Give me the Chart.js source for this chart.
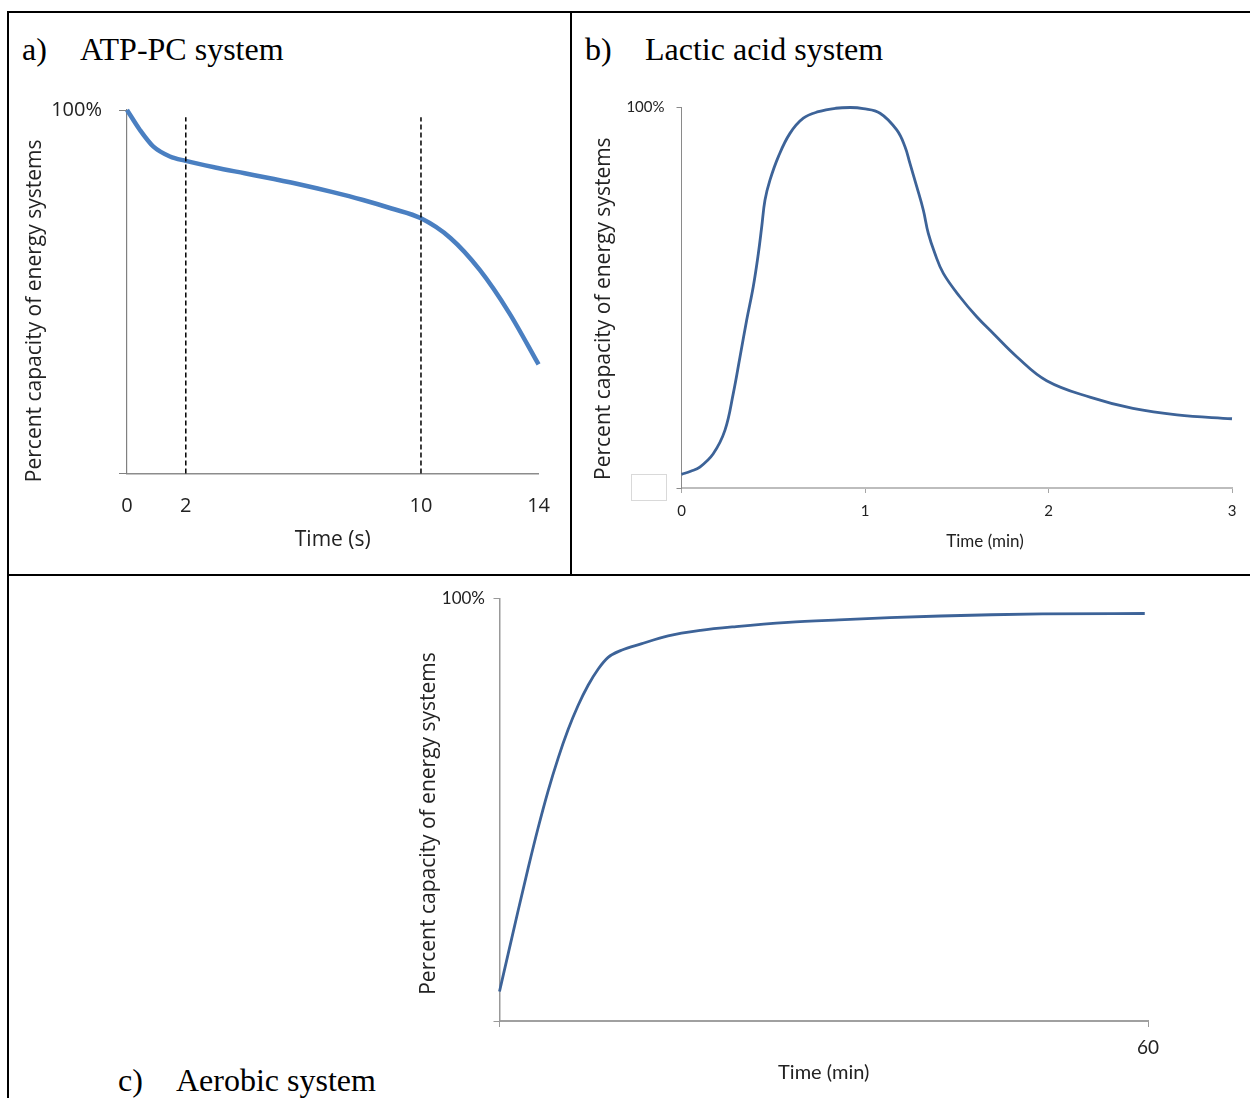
<!DOCTYPE html>
<html>
<head>
<meta charset="utf-8">
<script src="https://cdn.jsdelivr.net/npm/chart.js@4.4.1/dist/chart.umd.min.js"></script>
<style>
  body { margin: 0; background: #fff; width: 1250px; height: 1098px; overflow: hidden; position: relative; }
  .rule { position: absolute; background: #000; }
  .ttl { position: absolute; font-family: "Liberation Serif", "Times New Roman", serif; font-size: 32px; line-height: 32px; color: #000; white-space: nowrap; }
  canvas { position: absolute; }
  .ghost { position: absolute; border: 1px solid #d9d9d9; }
</style>
</head>
<body>
<div class="rule" style="left:7px; top:11px; width:1243px; height:2px;"></div>
<div class="rule" style="left:7px; top:11px; width:2px; height:1087px;"></div>
<div class="rule" style="left:570px; top:11px; width:2px; height:565px;"></div>
<div class="rule" style="left:7px; top:574px; width:1243px; height:2px;"></div>

<div class="ttl" style="left:22px; top:33px;">a)</div>
<div class="ttl" style="left:80px; top:33px;">ATP-PC system</div>
<div class="ttl" style="left:585px; top:33px;">b)</div>
<div class="ttl" style="left:645px; top:33px;">Lactic acid system</div>
<div class="ttl" style="left:118px; top:1064px;">c)</div>
<div class="ttl" style="left:176px; top:1064px;">Aerobic system</div>

<div class="ghost" style="left:631px; top:474px; width:34px; height:25px;"></div>

<canvas id="chartA" width="553" height="510" style="left:10px; top:62px;"></canvas>
<canvas id="chartB" width="677" height="510" style="left:573px; top:62px;"></canvas>
<canvas id="chartC" width="1238" height="518" style="left:10px; top:580px;"></canvas>

<script>
// a) ATP-PC system, temps en secondes
const atpTime = [0, 0.44, 0.9, 1.46, 2, 3, 4, 5, 6, 7, 8, 9, 10, 11, 12, 13, 14];
const atpCapacity = [100, 94.5, 89.9, 87.2, 86.0, 84.2, 82.6, 81.0, 79.3, 77.4, 75.3, 72.9, 70.2, 64.8, 56.0, 44.2, 30.0];
const atpMarkers = [2, 10];
const atpMarkerTop = 98;
const atpTicks = [0, 2, 10, 14];

// b) Lactic acid system, temps en minutes
const lacticTime = [0, 0.05, 0.1, 0.173, 0.237, 0.282, 0.319, 0.355, 0.391, 0.419, 0.437, 0.455, 0.482, 0.528, 0.591, 0.664, 0.746, 0.84, 0.92, 0.99, 1.082, 1.173, 1.218, 1.245, 1.282, 1.318, 1.345, 1.381, 1.427, 1.518, 1.609, 1.699, 1.827, 1.99, 2.23, 2.46, 2.7, 3.0];
const lacticCapacity = [3.6, 4.4, 5.5, 9.0, 15.2, 24.8, 34.5, 44.1, 52.9, 61.7, 68.6, 75.7, 80.9, 87.1, 93.2, 97.2, 98.9, 99.8, 100, 99.7, 98.5, 94.1, 89.7, 85.3, 79.2, 73.0, 66.9, 61.6, 56.4, 50.2, 45.0, 40.6, 34.5, 28.2, 23.8, 20.9, 19.2, 18.2];
const lacticTicks = [0, 1, 2, 3];

// c) Aerobic system, temps en minutes
const aerobicTime = [0, 0.8, 1.72, 2.65, 3.57, 4.5, 5.42, 6.35, 7.27, 8.2, 9.12, 10.05, 11.28, 13.1, 15.6, 18.6, 21.9, 26.7, 31.4, 36.1, 40.8, 45.5, 50.2, 59.7];
const aerobicCapacity = [7.0, 15.9, 26.1, 36.2, 45.7, 54.5, 62.2, 69.0, 74.7, 79.5, 83.3, 86.1, 87.8, 89.3, 91.2, 92.5, 93.4, 94.4, 95.0, 95.5, 95.9, 96.2, 96.4, 96.5];
const aerobicTicks = [0, 60];
const aerobicLabels = ['', '60'];

const yTicks = [0, 100];
const yTitle = 'Percent capacity of energy systems';

function pts(xs, ys) {
    return xs.map((x, i) => ({ x: x, y: ys[i] }));
}
function fixTicks(values) {
    return scale => { scale.ticks = values.map(v => ({ value: v })); };
}
function pctLabel(v) {
    return v === 100 ? '100%' : '';
}

const curveA = {
    data: pts(atpTime, atpCapacity),
    borderColor: '#4A7FC1',
    borderWidth: 4.5,
    pointRadius: 0,
    cubicInterpolationMode: 'monotone',
    clip: false
};
const markersA = atpMarkers.map(t => ({
    data: [{ x: t, y: 0 }, { x: t, y: atpMarkerTop }],
    borderColor: '#000',
    borderWidth: 1.5,
    borderDash: [5, 3],
    pointRadius: 0,
    clip: false
}));

const baseOpts = {
    responsive: false,
    animation: false,
    events: [],
    plugins: { legend: { display: false }, tooltip: { enabled: false } }
};

new Chart(document.getElementById('chartA'), {
    type: 'line',
    data: { datasets: [...markersA, curveA] },
    options: {
        ...baseOpts,
        // le bord droit vient du padding du label "14" (largeur/2 + padding)
        layout: { padding: { top: 48, right: 0, left: 0, bottom: 0 } },
        scales: {
            x: {
                type: 'linear', min: 0, max: 14,
                afterBuildTicks: fixTicks(atpTicks),
                afterFit: s => { s.height = 98.5; },
                grid: { display: false },
                border: { display: true, color: '#8c8c8c', width: 1.5 },
                ticks: { padding: 13, color: '#222', maxRotation: 0, font: { family: 'Open Sans', size: 20 } },
                title: { display: true, text: 'Time (s)', color: '#222', padding: { top: 0, bottom: 19 }, font: { family: 'Open Sans', size: 21 } }
            },
            y: {
                min: 0, max: 100,
                afterBuildTicks: fixTicks(yTicks),
                afterFit: s => { s.width = 117; },
                grid: { display: true, drawOnChartArea: false, drawTicks: true, tickLength: 8, color: '#808080' },
                border: { display: true, color: '#808080', width: 1.2 },
                ticks: { padding: 17, color: '#222', callback: pctLabel, font: { family: 'Open Sans', size: 20 } },
                title: { display: true, text: yTitle + ' '.repeat(7), color: '#222', padding: { top: 12, bottom: 0 }, font: { family: 'Open Sans', size: 21 } }
            }
        }
    }
});

new Chart(document.getElementById('chartB'), {
    type: 'line',
    data: {
        datasets: [{
            data: pts(lacticTime, lacticCapacity),
            borderColor: '#3D6398',
            borderWidth: 2.8,
            pointRadius: 0,
            tension: 0.4,
            clip: false
        }]
    },
    options: {
        ...baseOpts,
        layout: { padding: { top: 45.5, right: 18, left: 0, bottom: 0 } },
        scales: {
            x: {
                type: 'linear', min: 0, max: 3,
                afterBuildTicks: fixTicks(lacticTicks),
                afterFit: s => { s.height = 84; },
                grid: { display: true, drawOnChartArea: false, drawTicks: true, tickLength: 5, color: '#a6a6a6' },
                border: { display: true, color: '#bdbdbd', width: 2 },
                ticks: { padding: 9, color: '#222', maxRotation: 0, font: { family: 'Lato', size: 15 } },
                title: { display: true, text: ' '.repeat(13) + 'Time (min)', color: '#222', padding: { top: 0, bottom: 20 }, font: { family: 'Lato', size: 17 } }
            },
            y: {
                min: 0, max: 100,
                afterBuildTicks: fixTicks(yTicks),
                afterFit: s => { s.width = 108.5; },
                grid: { display: true, drawOnChartArea: false, drawTicks: true, tickLength: 5, color: '#8a8a8a' },
                border: { display: true, color: '#8a8a8a', width: 1 },
                ticks: { padding: 12, color: '#222', callback: pctLabel, font: { family: 'Lato', size: 15 } },
                title: { display: true, text: yTitle + ' '.repeat(4), color: '#222', padding: { top: 18, bottom: 0 }, font: { family: 'Open Sans', size: 21 } }
            }
        }
    }
});

new Chart(document.getElementById('chartC'), {
    type: 'line',
    data: {
        datasets: [{
            data: pts(aerobicTime, aerobicCapacity),
            borderColor: '#3D6398',
            borderWidth: 2.8,
            pointRadius: 0,
            cubicInterpolationMode: 'monotone',
            clip: false
        }]
    },
    options: {
        ...baseOpts,
        layout: { padding: { top: 16, right: 100, left: 380, bottom: 0 } },
        scales: {
            x: {
                type: 'linear', min: 0, max: 60,
                afterBuildTicks: fixTicks(aerobicTicks),
                afterFit: s => { s.height = 77; },
                grid: { display: true, drawOnChartArea: false, drawTicks: true, tickLength: 6, color: '#999' },
                border: { display: true, color: '#a0a0a0', width: 2 },
                ticks: { padding: 9, color: '#222', maxRotation: 0, callback: (v, i) => aerobicLabels[i], font: { family: 'Lato', size: 19 } },
                title: { display: true, text: 'Time (min)', color: '#222', padding: { top: 0, bottom: 13 }, font: { family: 'Lato', size: 20 } }
            },
            y: {
                min: 0, max: 100,
                afterBuildTicks: fixTicks(yTicks),
                afterFit: s => { s.width = 109.5; },
                grid: { display: true, drawOnChartArea: false, drawTicks: true, tickLength: 6, color: '#999' },
                border: { display: true, color: '#999', width: 1.5 },
                ticks: { padding: 8.5, color: '#222', callback: pctLabel, font: { family: 'Lato', size: 17 } },
                title: { display: true, text: yTitle + ' '.repeat(5), color: '#222', padding: { top: 26, bottom: 0 }, font: { family: 'Open Sans', size: 21 } }
            }
        }
    }
});
</script>
</body>
</html>
